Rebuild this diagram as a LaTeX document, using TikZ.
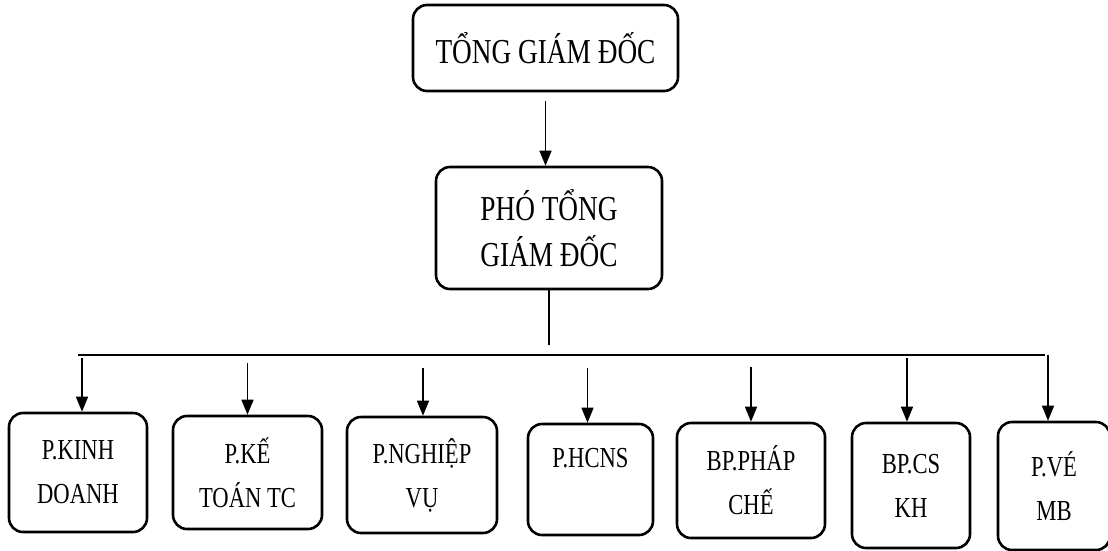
\documentclass[tikz,border=0pt]{standalone}
\usepackage{fontspec}
\setmainfont{Liberation Serif}[FakeStretch=0.78]
\usetikzlibrary{arrows.meta}

\tikzset{
  box/.style={draw,line width=2.6pt,rounded corners=14pt,align=center,inner sep=0pt},
  head/.style={box,font=\fontsize{35}{46}\selectfont},
  dept/.style={box,font=\fontsize{29}{44}\selectfont},
  link/.style={line width=1.5pt},
  arr/.style={link,-{Triangle[width=12pt,length=15pt]}}
}

\begin{document}
\begin{tikzpicture}[x=1pt,y=-1pt]
 		\useasboundingbox (0,0) rectangle (1108,550);
 		
 		% Top management
 		\node[head,minimum width=265pt,minimum height=86pt] (tgd) at (545.5,48) {TỔNG GIÁM ĐỐC};
 		\node[head,minimum width=226pt,minimum height=122pt] (ptgd) at (549,228) {PHÓ TỔNG\\GIÁM ĐỐC};
 		
 		% Departments
 		\node[dept,minimum width=138pt,minimum height=119pt] (kd) at (78,472.5)   {P.KINH\\DOANH};
 		\node[dept,minimum width=149pt,minimum height=113pt] (kt) at (247.5,472.5) {P.KẾ\\TOÁN TC};
 		\node[dept,minimum width=150pt,minimum height=116pt] (nv) at (422,475)     {P.NGHIỆP\\VỤ};
 		\node[dept,minimum width=125pt,minimum height=111pt] (hc) at (590.5,479.5) {P.HCNS\\\mbox{}};
 		\node[dept,minimum width=148pt,minimum height=115pt] (pc) at (751,480.5)   {BP.PHÁP\\CHẾ};
 		\node[dept,minimum width=118pt,minimum height=125pt] (cs) at (911,485.5)   {BP.CS\\KH};
 		\node[dept,minimum width=112pt,minimum height=128pt] (ve) at (1054,486)    {P.VÉ\\MB};
 		
 		% Bus line
 		\coordinate (drop) at (547,345);
 		\coordinate (busw) at (78,355);
 		\coordinate (buse) at (1045,355);
 		
 		\draw[arr,shorten <=9pt] (tgd.south) -- (tgd.south |- ptgd.north);
 		\draw[link] (ptgd.south) -- (ptgd.south |- drop);
 		\draw[link] (busw) -- (buse);
 		
 		% Arrows down to each department
 		\foreach \n/\dx/\gap in {kd/4/3,kt/0/8,nv/1/13,hc/-3/13,pc/0/12,cs/-4/3,ve/-6/0}
 		  \draw[arr,shorten <=\gap pt] ([xshift=\dx pt]\n.north |- busw) -- ([xshift=\dx pt]\n.north);
 		
\end{tikzpicture}
\end{document}
